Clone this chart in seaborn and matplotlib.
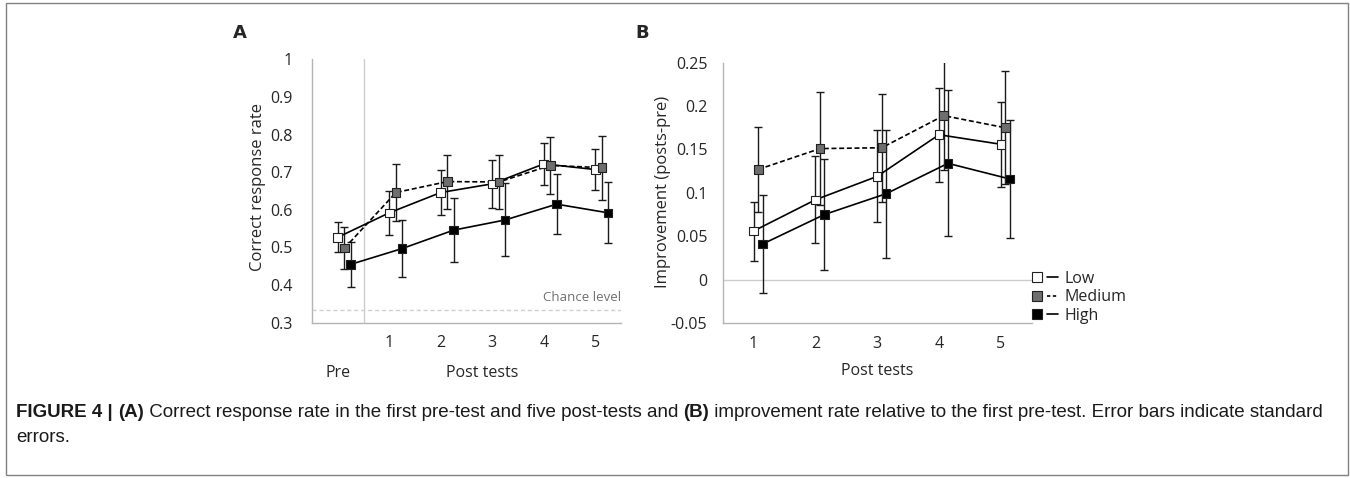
import matplotlib
matplotlib.use("Agg")
import matplotlib.pyplot as plt
import matplotlib.transforms as mtransforms
from matplotlib.lines import Line2D
from matplotlib.legend_handler import HandlerTuple
from matplotlib.patches import Rectangle
import seaborn as sns
import pandas as pd
import numpy as np

W, H, DPI = 1350, 478, 100

groups = ["Low", "Medium", "High"]

# Panel A: pre-test (0) and post tests 1-5
tests_a = [0, 1, 2, 3, 4, 5]
rate_low = [0.527, 0.592, 0.646, 0.669, 0.722, 0.707]
rate_med = [0.498, 0.646, 0.675, 0.674, 0.718, 0.712]
rate_high = [0.455, 0.497, 0.546, 0.573, 0.615, 0.592]
se_rate_low = [0.040, 0.058, 0.061, 0.063, 0.056, 0.055]
se_rate_med = [0.055, 0.076, 0.072, 0.072, 0.076, 0.085]
se_rate_high = [0.059, 0.075, 0.086, 0.097, 0.079, 0.081]
chance_level = 0.333

# Panel B: improvement relative to pre-test
tests_b = [1, 2, 3, 4, 5]
imp_low = [0.056, 0.092, 0.119, 0.167, 0.156]
imp_med = [0.127, 0.151, 0.152, 0.189, 0.175]
imp_high = [0.041, 0.075, 0.099, 0.134, 0.116]
se_imp_low = [0.034, 0.050, 0.053, 0.054, 0.049]
se_imp_med = [0.049, 0.065, 0.062, 0.063, 0.065]
se_imp_high = [0.056, 0.064, 0.074, 0.084, 0.068]

post_labels = ["1", "2", "3", "4", "5"]
yticks_a = [0.3, 0.4, 0.5, 0.6, 0.7, 0.8, 0.9, 1.0]
yticklabels_a = ["0.3", "0.4", "0.5", "0.6", "0.7", "0.8", "0.9", "1"]
yticks_b = [-0.05, 0, 0.05, 0.1, 0.15, 0.2, 0.25]
yticklabels_b = ["-0.05", "0", "0.05", "0.1", "0.15", "0.2", "0.25"]

colors = {"Low": "white", "Medium": "#6e6e6e", "High": "black"}
dashes = {"Low": "", "Medium": (3, 1.6), "High": ""}
offset_a = {"Low": 0.0, "Medium": 0.13, "High": 0.25}
offset_b = {"Low": 0.0, "Medium": 0.075, "High": 0.145}

sns.set_style("white")
plt.rcParams["font.family"] = ["Open Sans", "DejaVu Sans"]

AXIS_GRAY = "#b4b4b4"
TICK_FS = 11.5


def long_frame(tests, means, ses, offsets):
    rows = []
    for g in groups:
        for t, m, s in zip(tests, means[g], ses[g]):
            rows.append(dict(group=g, test=t, x=t + offsets[g], value=m, se=s))
    return pd.DataFrame(rows)


def draw_panel(ax, df):
    ax.errorbar(df["x"], df["value"], yerr=df["se"], fmt="none", ecolor="#1a1a1a",
                elinewidth=1.0, capsize=3, capthick=1.0, zorder=2)
    sns.lineplot(data=df, x="x", y="value", style="group", style_order=groups,
                 dashes=dashes, color="black", linewidth=1.2, estimator=None,
                 errorbar=None, legend=False, ax=ax, zorder=3)
    sns.scatterplot(data=df, x="x", y="value", hue="group", hue_order=groups,
                    palette=colors, marker="s", s=38, edgecolor="#202020",
                    linewidth=0.8, legend=False, ax=ax, zorder=4)
    for side in ["top", "right"]:
        ax.spines[side].set_visible(False)
    for side in ["left", "bottom"]:
        ax.spines[side].set_color(AXIS_GRAY)
        ax.spines[side].set_linewidth(1.0)
    ax.set_xlabel("")
    ax.set_ylabel("")


fig = plt.figure(figsize=(W / DPI, H / DPI), dpi=DPI)

# ---- Panel A
ax_a = fig.add_axes([312 / W, 1 - 322.7 / H, 309 / W, 263.4 / H])
df_a = long_frame(tests_a, {"Low": rate_low, "Medium": rate_med, "High": rate_high},
                  {"Low": se_rate_low, "Medium": se_rate_med, "High": se_rate_high}, offset_a)
draw_panel(ax_a, df_a)
ax_a.set_xlim(-0.5, 5.5)
ax_a.set_ylim(0.3, 1.0)
ax_a.axvline(0.5, color="#cccccc", lw=1.0, zorder=1)
ax_a.axhline(chance_level, color="#d0d0d0", lw=1.0, ls=(0, (3, 2)), zorder=1)
ax_a.text(5.5, chance_level + 0.016, "Chance level", ha="right", va="bottom",
          fontsize=9.5, color="#707070")
ax_a.set_xticks(tests_b)
ax_a.set_xticklabels(post_labels, fontsize=TICK_FS)
ax_a.set_xticks(np.arange(-0.5, 6.0, 1.0), minor=True)
ax_a.set_yticks(yticks_a)
ax_a.set_yticklabels(yticklabels_a, fontsize=TICK_FS)
ax_a.set_yticks(np.linspace(0.3, 1.0, 7), minor=True)
ax_a.tick_params(axis="both", which="major", length=0, pad=9)
ax_a.tick_params(axis="x", which="minor", direction="out", length=4, color=AXIS_GRAY)
ax_a.tick_params(axis="y", which="minor", direction="out", length=4, color=AXIS_GRAY)
ax_a.tick_params(axis="y", which="major", pad=14)
blend_a = mtransforms.blended_transform_factory(ax_a.transData, ax_a.transAxes)
ax_a.text(0, -0.19, "Pre", transform=blend_a, ha="center", va="center", fontsize=TICK_FS)
ax_a.text(2.8, -0.19, "Post tests", transform=blend_a, ha="center", va="center", fontsize=TICK_FS)
fig.text(258 / W, 1 - 187 / H, "Correct response rate", rotation=90,
         ha="center", va="center", fontsize=12)

# ---- Panel B
ax_b = fig.add_axes([722.7 / W, 1 - 323 / H, 309 / W, 260.3 / H])
df_b = long_frame(tests_b, {"Low": imp_low, "Medium": imp_med, "High": imp_high},
                  {"Low": se_imp_low, "Medium": se_imp_med, "High": se_imp_high}, offset_b)
draw_panel(ax_b, df_b)
ax_b.set_xlim(0.5, 5.5)
ax_b.set_ylim(-0.05, 0.25)
ax_b.axhline(0, color="#cccccc", lw=1.0, zorder=1)
ax_b.set_xticks(tests_b)
ax_b.set_xticklabels(post_labels, fontsize=TICK_FS)
ax_b.set_yticks(yticks_b)
ax_b.set_yticklabels(yticklabels_b, fontsize=TICK_FS)
ax_b.tick_params(axis="both", which="major", length=0, pad=9)
ax_b.tick_params(axis="y", which="major", pad=11)
fig.text(877 / W, 1 - 371 / H, "Post tests", ha="center", va="center", fontsize=TICK_FS)
fig.text(663 / W, 1 - 192 / H, "Improvement (posts-pre)", rotation=90,
         ha="center", va="center", fontsize=12)

# legend: marker, then a short line sample
handles = []
for g in groups:
    mk = Line2D([], [], ls="none", marker="s", markersize=6.5, markerfacecolor=colors[g],
                markeredgecolor="#202020", markeredgewidth=0.8)
    ln = Line2D([], [], color="black", lw=1.2, ls=(0, (2, 1.5)) if g == "Medium" else "-")
    handles.append((mk, ln))
fig.legend(handles, groups, handler_map={tuple: HandlerTuple(ndivide=None, pad=0.3)},
           loc="upper left", bbox_to_anchor=(1031 / W, 1 - 271 / H), frameon=False,
           fontsize=11.5, handlelength=1.7, handletextpad=0.4, labelspacing=0.15,
           borderpad=0, borderaxespad=0)

# panel letters
fig.text(240 / W, 1 - 33 / H, "A", ha="center", va="center", fontsize=13,
         fontweight="bold", family=["DejaVu Sans"])
fig.text(642 / W, 1 - 33 / H, "B", ha="center", va="center", fontsize=13,
         fontweight="bold", family=["DejaVu Sans"])

# caption, mixed bold/normal runs, sized to span the same width as the original
cap_family = ["Liberation Sans", "DejaVu Sans"]
renderer = fig.canvas.get_renderer()
ident = mtransforms.IdentityTransform()


def draw_runs(x, y, runs, size):
    made = []
    for txt, weight in runs:
        t = fig.text(x, y, txt, transform=ident, ha="left", va="baseline",
                     fontsize=size, fontweight=weight, family=cap_family, color="#1a1a1a")
        made.append(t)
        x = t.get_window_extent(renderer).x1
    return made, x


line1 = [("FIGURE 4 | ", "bold"), ("(A)", "bold"),
         (" Correct response rate in the first pre-test and five post-tests and ", "normal"),
         ("(B)", "bold"),
         (" improvement rate relative to the first pre-test. Error bars indicate standard", "normal")]
trial, x_end = draw_runs(16, H - 417, line1, 10.0)
for t in trial:
    t.remove()
cap_fs = 10.0 * (1330 - 16) / (x_end - 16)
draw_runs(16, H - 417, line1, cap_fs)
draw_runs(16, H - 442, [("errors.", "normal")], cap_fs)

# frame around the figure
fig.patches.append(Rectangle((6 / W, 3 / H), 1342 / W, 472 / H, transform=fig.transFigure,
                             fill=False, edgecolor="#808080", lw=1.0))

fig.savefig("out.png", dpi=DPI)
